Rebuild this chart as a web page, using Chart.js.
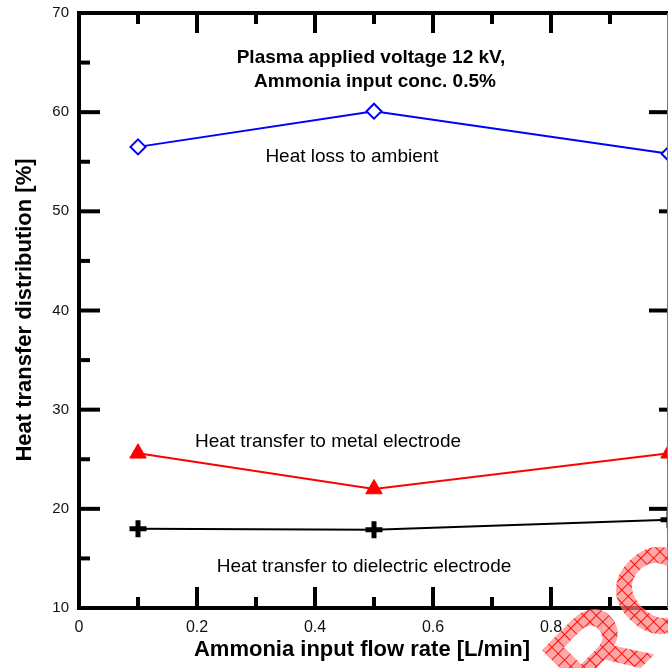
<!DOCTYPE html>
<html>
<head>
<meta charset="utf-8">
<script src="https://cdn.jsdelivr.net/npm/chart.js@4"></script>
<style>
  html, body { margin:0; padding:0; background:#fff; overflow:hidden; }
  #wrap { width:668px; height:668px; overflow:hidden; }
  canvas { display:block; }
</style>
</head>
<body>
<div id="wrap"><canvas id="heatChart" width="672" height="668"></canvas></div>
<script>
// Heat transfer distribution vs ammonia flow rate (12 kV, NH3 0.5%)
const flowRates = [0.1, 0.5, 1.0];
const heatLossAmbient = [56.5, 60.1, 55.8];
const heatMetalElectrode = [25.6, 22.0, 25.6];
const heatDielectricElectrode = [18.0, 17.9, 18.9];

const xTickLabels = [0, 0.2, 0.4, 0.6, 0.8, 1];
const xMinorTicks = [0.1, 0.3, 0.5, 0.7, 0.9];
const yTickLabels = [10, 20, 30, 40, 50, 60, 70];
const yMinorTicks = [15, 25, 35, 45, 55, 65];
const yRightMajor = [20, 40, 60];
const yRightMinor = [30, 50];

const FONT = '"Liberation Sans", Arial, Helvetica, sans-serif';

const pts = ys => flowRates.map((x, i) => ({x, y: ys[i]}));

// frame, inward ticks, tick labels, axis titles and text notes
const framePlugin = {
  id: 'frame',
  afterDatasetsDraw(chart) {
    const {ctx, chartArea: a, scales: {x, y}} = chart;
    ctx.save();
    ctx.strokeStyle = '#000';
    ctx.lineCap = 'butt';

    // ticks
    ctx.lineWidth = 4;
    const tick = (x1, y1, x2, y2) => { ctx.beginPath(); ctx.moveTo(x1, y1); ctx.lineTo(x2, y2); ctx.stroke(); };
    xTickLabels.forEach(v => {
      const px = x.getPixelForValue(v);
      tick(px, a.bottom, px, a.bottom - 21);
      tick(px, a.top, px, a.top + 20);
    });
    xMinorTicks.forEach(v => {
      const px = x.getPixelForValue(v);
      tick(px, a.bottom, px, a.bottom - 11);
      tick(px, a.top, px, a.top + 11);
    });
    yTickLabels.forEach(v => {
      const py = y.getPixelForValue(v);
      tick(a.left, py, a.left + 21, py);
    });
    yMinorTicks.forEach(v => {
      const py = y.getPixelForValue(v);
      tick(a.left, py, a.left + 11, py);
    });
    yRightMajor.forEach(v => {
      const py = y.getPixelForValue(v);
      tick(a.right, py, a.right - 20, py);
    });
    yRightMinor.forEach(v => {
      const py = y.getPixelForValue(v);
      tick(a.right, py, a.right - 10, py);
    });

    // frame
    ctx.lineWidth = 4;
    ctx.beginPath();
    ctx.moveTo(a.left, a.top);
    ctx.lineTo(a.right, a.top);
    ctx.moveTo(a.left, a.bottom);
    ctx.lineTo(a.right, a.bottom);
    ctx.moveTo(a.left, a.top - 2);
    ctx.lineTo(a.left, a.bottom + 2);
    ctx.stroke();
    ctx.lineWidth = 1;
    ctx.strokeStyle = '#777';
    ctx.beginPath();
    ctx.moveTo(667.5, a.top);
    ctx.lineTo(667.5, a.bottom);
    ctx.stroke();

    // tick labels
    ctx.fillStyle = '#111';
    ctx.font = '15px ' + FONT;
    ctx.textAlign = 'right';
    ctx.textBaseline = 'middle';
    yTickLabels.forEach(v => ctx.fillText(String(v), a.left - 10, y.getPixelForValue(v)));
    ctx.font = '16px ' + FONT;
    ctx.textAlign = 'center';
    ctx.textBaseline = 'middle';
    xTickLabels.forEach(v => ctx.fillText(String(v), x.getPixelForValue(v), a.bottom + 20));

    // axis titles
    ctx.fillStyle = '#000';
    ctx.font = 'bold 22px ' + FONT;
    ctx.textBaseline = 'middle';
    ctx.fillText('Ammonia input flow rate [L/min]', 362, 650);
    ctx.save();
    ctx.translate(25, 310);
    ctx.rotate(-Math.PI / 2);
    ctx.fillText('Heat transfer distribution [%]', 0, 0);
    ctx.restore();

    // notes
    ctx.font = 'bold 19px ' + FONT;
    ctx.fillText('Plasma applied voltage 12 kV,', 371, 58);
    ctx.fillText('Ammonia input conc. 0.5%', 375, 82);
    ctx.font = '19px ' + FONT;
    ctx.fillText('Heat loss to ambient', 352, 157);
    ctx.fillText('Heat transfer to metal electrode', 328, 442);
    ctx.fillText('Heat transfer to dielectric electrode', 364, 567);
    ctx.restore();
  }
};

// hatched red stamp in the corner
const stampPlugin = {
  id: 'stamp',
  afterDraw(chart) {
    const {ctx} = chart;
    const tile = document.createElement('canvas');
    tile.width = 9; tile.height = 9;
    const t = tile.getContext('2d');
    t.fillStyle = 'rgba(255,130,130,0.7)';
    t.fillRect(0, 0, 9, 9);
    t.fillStyle = 'rgba(255,0,0,0.9)';
    t.fillRect(0, 0, 9, 1);
    t.fillRect(0, 0, 1, 9);
    ctx.save();
    ctx.font = 'bold 120px ' + FONT;
    const wP = ctx.measureText('P').width;
    const wR = ctx.measureText('R').width;
    ctx.translate(602, 660);
    ctx.rotate(-Math.PI / 4);
    ctx.textAlign = 'left';
    ctx.textBaseline = 'middle';
    ctx.fillStyle = ctx.createPattern(tile, 'repeat');
    ctx.fillText('PROOF', -wP - wR / 2, 0);
    ctx.restore();
  }
};

new Chart(document.getElementById('heatChart'), {
  type: 'line',
  data: {
    datasets: [
      {
        label: 'Heat loss to ambient',
        data: pts(heatLossAmbient),
        borderColor: '#0000ff',
        borderWidth: 2,
        pointStyle: 'rectRot',
        pointRadius: 7.5,
        pointBorderWidth: 2,
        pointBorderColor: '#0000ff',
        pointBackgroundColor: '#ffffff',
        clip: false
      },
      {
        label: 'Heat transfer to metal electrode',
        data: pts(heatMetalElectrode),
        borderColor: '#ff0000',
        borderWidth: 2,
        pointStyle: 'triangle',
        pointRadius: 9.5,
        pointBorderWidth: 1,
        pointBorderColor: '#ff0000',
        pointBackgroundColor: '#ff0000',
        clip: false
      },
      {
        label: 'Heat transfer to dielectric electrode',
        data: pts(heatDielectricElectrode),
        borderColor: '#000000',
        borderWidth: 2,
        pointStyle: 'cross',
        pointRadius: 8.5,
        pointBorderWidth: 5,
        pointBorderColor: '#000000',
        clip: false
      }
    ]
  },
  options: {
    responsive: false,
    animation: false,
    devicePixelRatio: 1,
    layout: { autoPadding: false, padding: { left: 79, top: 13, right: 3, bottom: 60 } },
    plugins: { legend: { display: false }, tooltip: { enabled: false } },
    elements: { line: { tension: 0 } },
    scales: {
      x: { type: 'linear', min: 0, max: 1, display: false },
      y: { type: 'linear', min: 10, max: 70, display: false }
    }
  },
  plugins: [framePlugin, stampPlugin]
});
</script>
</body>
</html>
